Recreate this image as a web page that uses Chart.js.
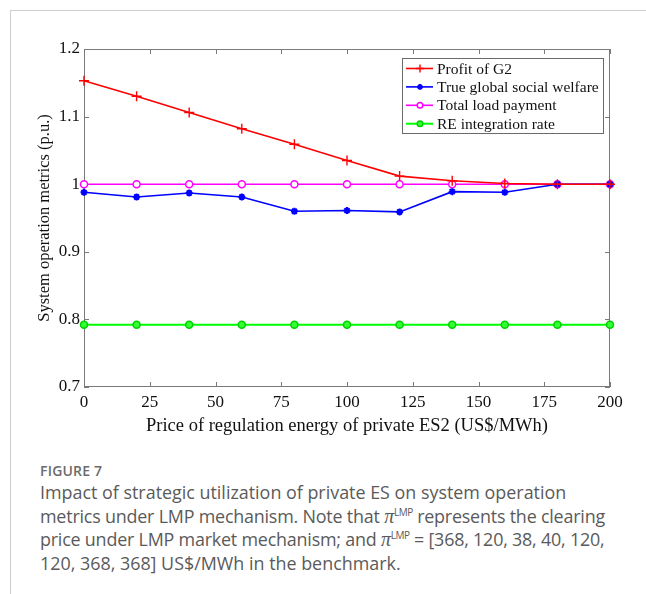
<!DOCTYPE html>
<html>
<head>
<meta charset="utf-8">
<script src="https://cdn.jsdelivr.net/npm/chart.js@4/dist/chart.umd.min.js"></script>
<style>
  body { margin: 0; background: #fff; width: 646px; height: 594px; overflow: hidden; position: relative; }
  #frame { position: absolute; left: 10px; top: 10px; width: 636px; height: 584px; border-left: 1px solid #cfcfcf; border-top: 1px solid #cfcfcf; }
  #chart { position: absolute; left: 0; top: 0; }
  #caption { position: absolute; left: 40px; top: 461px; font-family: "Open Sans", sans-serif; color: #5a5a5a; white-space: nowrap; }
  #caption .fig { font-size: 14px; font-weight: 600; color: #6b6b6b; letter-spacing: 0.2px; margin-bottom: 1px; }
  #caption .txt { font-size: 17.9px; line-height: 23.6px; }
  .pi { font-family: "Liberation Serif", serif; font-style: italic; font-size: 20px; }
  sup { font-size: 10px; vertical-align: 7px; line-height: 0; letter-spacing: -0.5px; }
</style>
</head>
<body>
<div id="frame"></div>
<canvas id="chart" width="646" height="440"></canvas>
<div id="caption">
  <div class="fig">FIGURE 7</div>
  <div class="txt">Impact of strategic utilization of private ES on system operation<br><span style="letter-spacing:-0.2px">metrics under LMP mechanism. Note that <span class="pi">π</span><sup>LMP</sup> represents the clearing</span><br><span style="letter-spacing:-0.2px">price under LMP market mechanism; and <span class="pi">π</span><sup>LMP</sup> = [368, 120, 38, 40, 120,</span><br>120, 368, 368] US$/MWh in the benchmark.</div>
</div>
<script>
const prices = [0, 20, 40, 60, 80, 100, 120, 140, 160, 180, 200];
const profitG2 = [1.153, 1.130, 1.106, 1.082, 1.059, 1.035, 1.012, 1.005, 1.001, 1.000, 1.000];
const socialWelfare = [0.988, 0.981, 0.987, 0.981, 0.960, 0.961, 0.959, 0.989, 0.988, 1.000, 1.000];
const loadPayment = [1, 1, 1, 1, 1, 1, 1, 1, 1, 1, 1];
const reRate = [0.792, 0.792, 0.792, 0.792, 0.792, 0.792, 0.792, 0.792, 0.792, 0.792, 0.792];
const xTicks = [0, 25, 50, 75, 100, 125, 150, 175, 200];
const yTicks = [0.7, 0.8, 0.9, 1, 1.1, 1.2];

const serif = '"Liberation Serif", "Times New Roman", serif';
const axisGray = '#7a7a7a';

function pairs(ys) { return prices.map((x, i) => ({ x: x, y: ys[i] })); }

// matlab-like box with inward ticks
const boxPlugin = {
  id: 'boxPlugin',
  beforeDatasetsDraw(chart) {
    const { ctx, chartArea: a, scales } = chart;
    ctx.save();
    ctx.strokeStyle = axisGray;
    ctx.lineWidth = 1;
    ctx.strokeRect(a.left + 0.5, a.top + 0.5, a.right - a.left - 1, a.bottom - a.top - 1);
    ctx.beginPath();
    xTicks.forEach(v => {
      const px = Math.round(scales.x.getPixelForValue(v)) + 0.5;
      ctx.moveTo(px, a.bottom); ctx.lineTo(px, a.bottom - 5);
      ctx.moveTo(px, a.top); ctx.lineTo(px, a.top + 5);
    });
    yTicks.forEach(v => {
      const py = Math.round(scales.y.getPixelForValue(v)) + 0.5;
      ctx.moveTo(a.left, py); ctx.lineTo(a.left + 5, py);
      ctx.moveTo(a.right, py); ctx.lineTo(a.right - 5, py);
    });
    ctx.stroke();
    ctx.restore();
  }
};

const legendPlugin = {
  id: 'legendPlugin',
  afterDraw(chart) {
    const { ctx, chartArea: a } = chart;
    const w = 201, h = 75;
    const x0 = a.right - 7 - w, y0 = a.top + 9;
    ctx.save();
    ctx.fillStyle = '#fff';
    ctx.fillRect(x0, y0, w, h);
    ctx.strokeStyle = '#6a6a6a';
    ctx.lineWidth = 1;
    ctx.strokeRect(x0 + 0.5, y0 + 0.5, w, h);
    ctx.font = '15.5px ' + serif;
    ctx.textBaseline = 'middle';
    chart.data.datasets.forEach((ds, i) => {
      const cy = y0 + 10.5 + i * 18.4;
      ctx.strokeStyle = ds.borderColor;
      ctx.lineWidth = ds.borderWidth;
      ctx.beginPath();
      ctx.moveTo(x0 + 4, cy); ctx.lineTo(x0 + 31, cy);
      ctx.stroke();
      ctx.fillStyle = ds.pointBackgroundColor;
      ctx.strokeStyle = ds.pointBorderColor;
      ctx.lineWidth = ds.pointBorderWidth;
      Chart.helpers.drawPoint(ctx, { pointStyle: ds.pointStyle, radius: ds.pointRadius * 0.8, rotation: 0, borderWidth: ds.pointBorderWidth }, x0 + 18, cy);
      ctx.fillStyle = '#111';
      ctx.fillText(ds.label, x0 + 35, cy + 1);
    });
    ctx.restore();
  }
};

new Chart(document.getElementById('chart'), {
  type: 'line',
  data: {
    datasets: [
      { label: 'Profit of G2', data: pairs(profitG2), borderColor: '#ff0000', borderWidth: 1.6,
        pointStyle: 'cross', pointRadius: 5, pointBorderColor: '#ff0000', pointBackgroundColor: '#ff0000', pointBorderWidth: 1.4 },
      { label: 'True global social welfare', data: pairs(socialWelfare), borderColor: '#0000ff', borderWidth: 1.6,
        pointStyle: 'star', pointRadius: 3.5, pointBorderColor: '#0000ff', pointBackgroundColor: '#0000ff', pointBorderWidth: 2 },
      { label: 'Total load payment', data: pairs(loadPayment), borderColor: '#ff00ff', borderWidth: 1.6,
        pointStyle: 'circle', pointRadius: 3.5, pointBorderColor: '#ff00ff', pointBackgroundColor: '#ffffff', pointBorderWidth: 1.5 },
      { label: 'RE integration rate', data: pairs(reRate), borderColor: '#00ff00', borderWidth: 2,
        pointStyle: 'circle', pointRadius: 3.5, pointBorderColor: '#00d000', pointBackgroundColor: '#33ff33', pointBorderWidth: 1.5 }
    ]
  },
  options: {
    responsive: false,
    animation: false,
    clip: false,
    layout: { padding: { left: 31, top: 49, right: 36, bottom: 0 } },
    plugins: { legend: { display: false }, tooltip: { enabled: false } },
    scales: {
      x: {
        type: 'linear', min: 0, max: 200,
        afterBuildTicks: s => { s.ticks = xTicks.map(v => ({ value: v })); },
        afterFit: s => { s.height = 53; },
        grid: { display: false, drawTicks: false },
        border: { display: false },
        ticks: { padding: 5, color: '#111', font: { family: serif, size: 17 }, maxRotation: 0 },
        title: { display: true, text: 'Price of regulation energy of private ES2 (US$/MWh)', color: '#111',
          font: { family: serif, size: 18.5 }, padding: { top: 0, bottom: 3 } }
      },
      y: {
        type: 'linear', min: 0.7, max: 1.2,
        afterBuildTicks: s => { s.ticks = yTicks.map(v => ({ value: v })); },
        afterFit: s => { s.width = 53; },
        grid: { display: false, drawTicks: false },
        border: { display: false },
        ticks: { padding: 4, color: '#111', font: { family: serif, size: 17 },
          callback: v => String(Math.round(v * 10) / 10) },
        title: { display: true, text: 'System operation metrics (p.u.)', color: '#111',
          font: { family: serif, size: 16.5 }, padding: { top: 4, bottom: 0 } }
      }
    }
  },
  plugins: [boxPlugin, legendPlugin]
});
</script>
</body>
</html>
